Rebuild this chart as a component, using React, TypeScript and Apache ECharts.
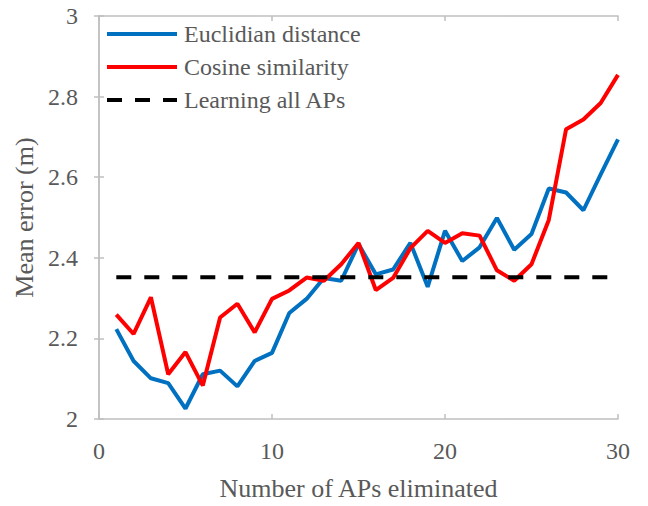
import React, { useEffect, useRef } from "react";
import * as echarts from "echarts";

const xValues = [1, 2, 3, 4, 5, 6, 7, 8, 9, 10, 11, 12, 13, 14, 15, 16, 17, 18, 19, 20, 21, 22, 23, 24, 25, 26, 27, 28, 29, 30];
const euclidian = [2.223, 2.144, 2.101, 2.089, 2.026, 2.111, 2.12, 2.081, 2.144, 2.164, 2.263, 2.298, 2.35, 2.343, 2.434, 2.359, 2.371, 2.437, 2.328, 2.467, 2.392, 2.426, 2.499, 2.42, 2.459, 2.572, 2.562, 2.518, 2.607, 2.694];
const cosine = [2.259, 2.211, 2.302, 2.111, 2.166, 2.083, 2.252, 2.286, 2.215, 2.298, 2.319, 2.351, 2.343, 2.384, 2.437, 2.32, 2.35, 2.424, 2.467, 2.437, 2.461, 2.455, 2.369, 2.343, 2.384, 2.494, 2.719, 2.743, 2.784, 2.854];
const learningAll = 2.352;
const seriesNames = ["Euclidian distance", "Cosine similarity", "Learning all APs"];
const xTitle = "Number of APs eliminated";
const yTitle = "Mean error (m)";

const FONT = "'Liberation Serif', 'Times New Roman', serif";
const TXT = "#595959";
const AX = "#bfbfbf";

export default function App() {
  const ref = useRef<HTMLDivElement>(null);
  useEffect(() => {
    const chart = echarts.init(ref.current!, null, { renderer: "svg" });
    const pair = (ys: number[]) => xValues.map((x, i) => [x, ys[i]]);
    chart.setOption({
      animation: false,
      textStyle: { fontFamily: FONT },
      grid: { left: 99, right: 30, top: 16, bottom: 82, show: false },
      legend: {
        orient: "vertical",
        left: 100,
        top: 17,
        itemWidth: 70,
        itemHeight: 14,
        itemGap: 9,
        itemStyle: { opacity: 0 },
        lineStyle: { width: 4 },
        textStyle: { fontFamily: FONT, fontSize: 24, color: TXT, padding: [0, 0, 0, 2] },
        data: seriesNames,
      },
      xAxis: [
        {
          type: "value",
          min: 0,
          max: 30,
          interval: 10,
          name: xTitle,
          nameLocation: "middle",
          nameGap: 56,
          nameTextStyle: { fontFamily: FONT, fontSize: 26, color: TXT },
          axisLine: { show: true, lineStyle: { color: AX, width: 1.5 } },
          axisTick: { show: true, inside: true, length: 5, lineStyle: { color: AX, width: 1.5 } },
          axisLabel: { fontFamily: FONT, fontSize: 24, color: TXT, margin: 20 },
          splitLine: { show: false },
        },
        {
          type: "value",
          position: "top",
          min: 0,
          max: 30,
          interval: 10,
          axisLine: { show: true, lineStyle: { color: AX, width: 1.5 } },
          axisTick: { show: true, inside: true, length: 5, lineStyle: { color: AX, width: 1.5 } },
          axisLabel: { show: false },
          splitLine: { show: false },
        },
      ],
      yAxis: [
        {
          type: "value",
          min: 2,
          max: 3,
          interval: 0.2,
          name: yTitle,
          nameLocation: "middle",
          nameGap: 51,
          nameTextStyle: { fontFamily: FONT, fontSize: 26, color: TXT },
          axisLine: { show: true, lineStyle: { color: AX, width: 1.5 } },
          axisTick: { show: true, inside: true, length: 5, lineStyle: { color: AX, width: 1.5 } },
          axisLabel: { fontFamily: FONT, fontSize: 24, color: TXT, margin: 21 },
          splitLine: { show: false },
        },
        {
          type: "value",
          position: "right",
          min: 2,
          max: 3,
          interval: 0.2,
          axisLine: { show: true, lineStyle: { color: AX, width: 1.5 } },
          axisTick: { show: true, inside: true, length: 5, lineStyle: { color: AX, width: 1.5 } },
          axisLabel: { show: false },
          splitLine: { show: false },
        },
      ],
      series: [
        {
          name: seriesNames[0],
          type: "line",
          data: pair(euclidian),
          symbol: "none",
          color: "#0070C0",
          lineStyle: { color: "#0070C0", width: 4 },
        },
        {
          name: seriesNames[1],
          type: "line",
          data: pair(cosine),
          symbol: "none",
          color: "#FF0000",
          lineStyle: { color: "#FF0000", width: 4 },
        },
        {
          name: seriesNames[2],
          type: "line",
          data: xValues.map((x) => [x, learningAll]),
          symbol: "none",
          color: "#000000",
          lineStyle: { color: "#000000", width: 4, type: [15, 13] },
        },
      ],
    });
    return () => chart.dispose();
  }, []);
  return <div ref={ref} style={{ position: "absolute", left: 0, top: 0, width: 648, height: 506 }} />;
}
